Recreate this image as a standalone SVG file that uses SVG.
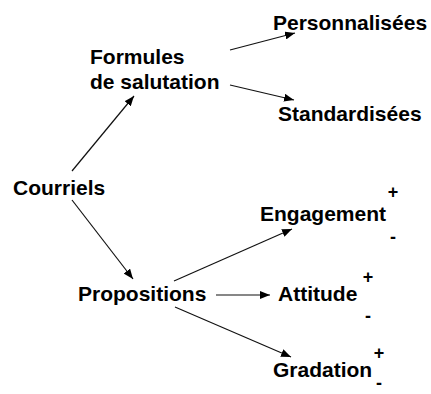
<svg xmlns="http://www.w3.org/2000/svg" width="431" height="394" viewBox="0 0 431 394">
<style>
.t{font-family:"Liberation Sans",Arial,sans-serif;font-weight:bold;font-size:21px;fill:#000}
.s{font-family:"Liberation Sans",Arial,sans-serif;font-weight:bold;font-size:18px;fill:#000;text-anchor:middle}
.c{stroke:#111;stroke-width:1.2;fill:none;marker-end:url(#ah)}
</style>
<defs>
<marker id="ah" viewBox="0 0 10 8" refX="10" refY="4" markerWidth="10" markerHeight="8" markerUnits="userSpaceOnUse" orient="auto">
<path d="M0,0 L10,4 L0,8 Z" fill="#000"/>
</marker>
</defs>
<rect width="431" height="394" fill="#fff"/>
<g id="connectors">
<line class="c" x1="72" y1="171" x2="134" y2="96"/>
<line class="c" x1="230" y1="50" x2="295" y2="33"/>
<line class="c" x1="230" y1="85" x2="294" y2="100"/>
<line class="c" x1="72" y1="200" x2="133" y2="279"/>
<line class="c" x1="174" y1="281" x2="292" y2="229"/>
<line class="c" x1="216" y1="295" x2="270" y2="295"/>
<line class="c" x1="175" y1="307" x2="291" y2="357"/>
</g>
<g id="courriels"><text class="t" x="13" y="195">Courriels</text></g>
<g id="formules"><text class="t" x="90" y="64">Formules</text><text class="t" x="90" y="89">de salutation</text></g>
<g id="personnalisees"><text class="t" x="273" y="30">Personnalisées</text></g>
<g id="standardisees"><text class="t" x="278" y="121">Standardisées</text></g>
<g id="propositions"><text class="t" x="78" y="301">Propositions</text></g>
<g id="engagement"><text class="t" x="260" y="221">Engagement</text><text class="s" x="393" y="198">+</text><text class="s" x="393" y="243">-</text></g>
<g id="attitude"><text class="t" x="278" y="301">Attitude</text><text class="s" x="368" y="283">+</text><text class="s" x="368" y="322">-</text></g>
<g id="gradation"><text class="t" x="273" y="377">Gradation</text><text class="s" x="379" y="359">+</text><text class="s" x="379" y="389">-</text></g>
</svg>
